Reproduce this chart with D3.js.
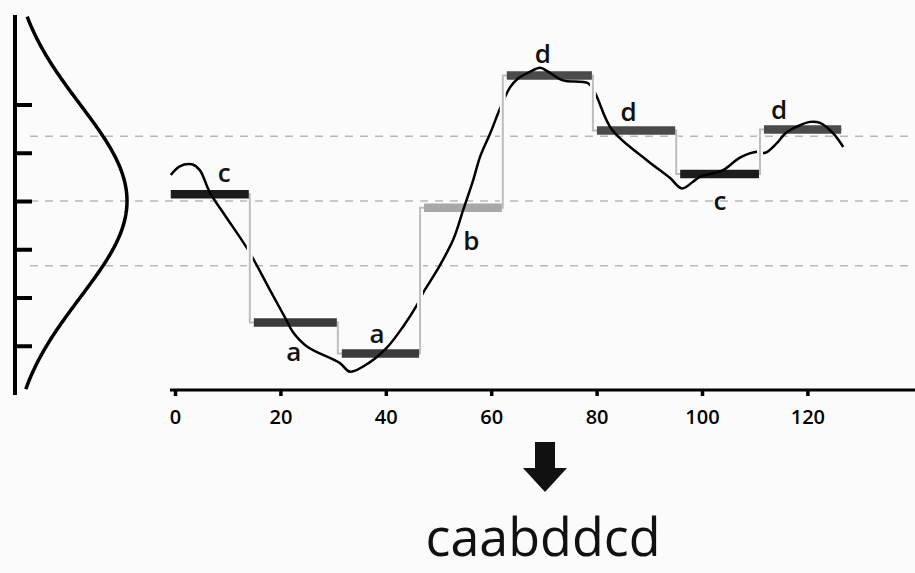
<!DOCTYPE html>
<html>
<head>
<meta charset="utf-8">
<script src="https://cdn.jsdelivr.net/npm/d3@7"></script>
<style>
  html, body { margin: 0; padding: 0; background: #fbfbfb; }
  svg { display: block; }
  text { font-family: 'Open Sans', 'Noto Sans', sans-serif; }
</style>
</head>
<body>
<div class="graph"></div>
<script>
// Time series (t = time index, v = normalised value)
const seriesT = [-0.8, 0.9, 3.2, 4.7, 6.6, 9.5, 13.9, 18.0, 20.9, 22.4, 25.1, 31.3, 33.2, 37.0, 40.2,
  43.3, 45.9, 47.1, 49.7, 52.8, 54.7, 56.6, 57.9, 59.8, 61.7, 63.6, 65.1, 67.4, 69.3, 70.8, 73.6,
  78.4, 79.7, 82.9, 89.6, 93.9, 96.2, 98.3, 99.6, 104.0, 107.2, 110.4, 112.0, 114.2, 115.8, 118.0,
  120.5, 122.4, 124.9, 126.8];
const seriesV = [0.27, 0.36, 0.38, 0.32, 0.09, -0.15, -0.51, -0.92, -1.21, -1.36, -1.51, -1.68, -1.77, -1.67, -1.52,
  -1.30, -1.08, -0.95, -0.72, -0.40, -0.09, 0.22, 0.46, 0.70, 0.96, 1.18, 1.27, 1.34, 1.38, 1.34, 1.25,
  1.22, 1.12, 0.74, 0.42, 0.24, 0.13, 0.20, 0.25, 0.32, 0.45, 0.51, 0.50, 0.60, 0.70, 0.77,
  0.82, 0.81, 0.70, 0.56];

// PAA segments and their symbols
const segmentEdges = [-0.8, 14.2, 30.9, 46.5, 62.2, 79.3, 95.1, 111.0, 126.6];
const segmentValues = [0.07, -1.26, -1.58, -0.07, 1.30, 0.73, 0.28, 0.74];
const segmentSymbols = ['c', 'a', 'a', 'b', 'd', 'd', 'c', 'd'];

// Gaussian breakpoints for an alphabet of 4
const breakpoints = [-0.67, 0, 0.67];

const yTicks = [-1.5, -1, -0.5, 0, 0.5, 1];
const xTicks = [0, 20, 40, 60, 80, 100, 120];
const saxWord = 'caabddcd';

// layout only: label nudges in px from the bar centre
const labelNudge = [[14, -12], [0, 38], [-2, -10], [10, 42], [-5, -13], [-6, -10], [2, 36], [-22, -11]];
const symbolColor = { a: '#3b3b3b', b: '#a8a8a8', c: '#1c1c1c', d: '#4b4b4b' };

const width = 915;
const height = 573;

const svg = d3.select('.graph')
  .append('svg')
  .attr('width', width)
  .attr('height', height);

svg.append('rect')
  .attr('width', width)
  .attr('height', height)
  .attr('fill', '#fbfbfb');

// Scales
const x = d3.scaleLinear().domain([0, 120]).range([175, 807.4]);
const y = d3.scaleLinear().domain([-1, 1]).range([297.5, 104.5]);

// Dashed breakpoint lines
svg.selectAll('.breakpoint')
  .data(breakpoints)
  .enter()
  .append('line')
  .attr('class', 'breakpoint')
  .attr('x1', 30)
  .attr('x2', width)
  .attr('y1', d => y(d))
  .attr('y2', d => y(d))
  .style('stroke', '#b8b8b8')
  .style('stroke-width', 1.5)
  .style('stroke-dasharray', '8 7');

// Left axis with the Gaussian
const yAxis = svg.append('g')
  .attr('transform', 'translate(15,0)')
  .call(d3.axisRight(y).tickValues(yTicks).tickSize(17).tickFormat(''));
yAxis.select('.domain').remove();
yAxis.selectAll('.tick line').style('stroke', '#000').style('stroke-width', 4);

svg.append('line')
  .attr('x1', 15).attr('x2', 15)
  .attr('y1', 15).attr('y2', 395)
  .style('stroke', '#000')
  .style('stroke-width', 4);

const gaussV = d3.range(-1.95, 1.93, 0.02);
const density = d3.scaleLinear().domain([0, 1]).range([8, 127]);
const gaussLine = d3.line()
  .x(v => density(Math.exp(-v * v / 2)))
  .y(v => y(v));

svg.append('path')
  .datum(gaussV)
  .attr('d', gaussLine)
  .style('fill', 'none')
  .style('stroke', '#000')
  .style('stroke-width', 3.5);

// Bottom axis
const xAxis = svg.append('g')
  .attr('transform', 'translate(0,390)')
  .call(d3.axisBottom(x).tickValues(xTicks).tickSize(6));
xAxis.select('.domain').remove();
xAxis.selectAll('.tick line').style('stroke', '#000').style('stroke-width', 3.5);
xAxis.selectAll('.tick text')
  .attr('y', 34)
  .attr('dy', 0)
  .attr('fill', '#000')
  .style('font-size', '20px')
  .style('font-weight', 600);

svg.append('line')
  .attr('x1', 170).attr('x2', width)
  .attr('y1', 390).attr('y2', 390)
  .style('stroke', '#000')
  .style('stroke-width', 3);

// Gray PAA step line
const stepPoints = segmentValues.map((v, i) => [segmentEdges[i], v]);
stepPoints.push([segmentEdges[segmentEdges.length - 1], segmentValues[segmentValues.length - 1]]);

svg.append('path')
  .datum(stepPoints)
  .attr('d', d3.line().curve(d3.curveStepAfter).x(d => x(d[0])).y(d => y(d[1])))
  .style('fill', 'none')
  .style('stroke', '#bdbdbd')
  .style('stroke-width', 2);

// Symbol bars
svg.selectAll('.bar')
  .data(segmentValues)
  .enter()
  .append('line')
  .attr('class', 'bar')
  .attr('x1', (d, i) => x(segmentEdges[i]) + (i === 0 ? 0 : 4))
  .attr('x2', (d, i) => x(segmentEdges[i + 1]) - 1)
  .attr('y1', d => y(d))
  .attr('y2', d => y(d))
  .style('stroke', (d, i) => symbolColor[segmentSymbols[i]])
  .style('stroke-width', 8.5);

// Time series
const series = seriesT.map((t, i) => [t, seriesV[i]]);
svg.append('path')
  .datum(series)
  .attr('d', d3.line().curve(d3.curveCatmullRom.alpha(0.5)).x(d => x(d[0])).y(d => y(d[1])))
  .style('fill', 'none')
  .style('stroke', '#000')
  .style('stroke-width', 2.5);

// Verticals drawn again over the series with a white halo
const risers = d3.range(1, segmentValues.length).map(i => {
  const ya = y(segmentValues[i - 1]);
  const yb = y(segmentValues[i]);
  return { x: x(segmentEdges[i]), top: Math.min(ya, yb) + 6, bottom: Math.max(ya, yb) - 6 };
}).filter(d => d.bottom > d.top);

[['#fbfbfb', 6], ['#bdbdbd', 2]].forEach(([colour, w]) => {
  svg.selectAll(null)
    .data(risers)
    .enter()
    .append('line')
    .attr('x1', d => d.x).attr('x2', d => d.x)
    .attr('y1', d => d.top).attr('y2', d => d.bottom)
    .style('stroke', colour)
    .style('stroke-width', w);
});

// Symbol letters
svg.selectAll('.symbol')
  .data(segmentSymbols)
  .enter()
  .append('text')
  .attr('class', 'symbol')
  .attr('x', (d, i) => (x(segmentEdges[i]) + x(segmentEdges[i + 1])) / 2 + labelNudge[i][0])
  .attr('y', (d, i) => y(segmentValues[i]) + labelNudge[i][1])
  .attr('text-anchor', 'middle')
  .style('font-size', '26px')
  .style('font-weight', 600)
  .attr('fill', '#111')
  .text(d => d);

// Arrow and SAX word
const ax = 545;
svg.append('path')
  .attr('d', `M${ax - 10},442 H${ax + 10} V468 H${ax + 22} L${ax},492 L${ax - 22},468 H${ax - 10} Z`)
  .attr('fill', '#111');

svg.append('text')
  .attr('x', 543)
  .attr('y', 556)
  .attr('text-anchor', 'middle')
  .attr('textLength', 235)
  .attr('lengthAdjust', 'spacingAndGlyphs')
  .style('font-size', '53px')
  .style('font-weight', 500)
  .attr('fill', '#111')
  .text(saxWord);
</script>
</body>
</html>
